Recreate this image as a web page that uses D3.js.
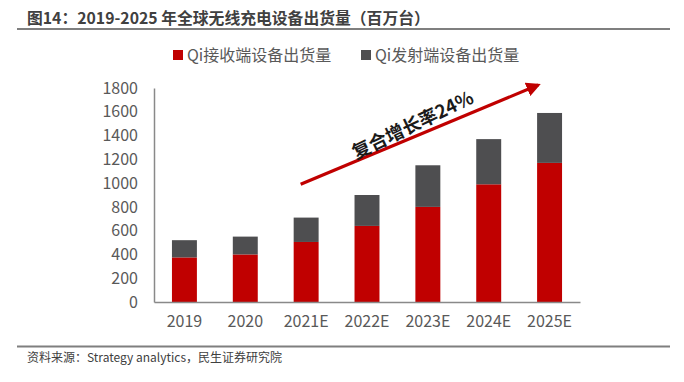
<!DOCTYPE html>
<html><head><meta charset="utf-8">
<script src="https://cdn.jsdelivr.net/npm/d3@7/dist/d3.min.js"></script>
<style>body{margin:0;background:#fff}svg{display:block}</style>
</head><body>
<svg id="c" width="684" height="382"></svg>
<script>
const categories = ["2019","2020","2021E","2022E","2023E","2024E","2025E"];
const receiverValues = [375,400,505,640,800,990,1170];
const transmitterValues = [145,150,205,260,350,380,420];
const yTicks = [0,200,400,600,800,1000,1200,1400,1600,1800];
const seriesNames = ["Qi接收端设备出货量","Qi发射端设备出货量"];
const seriesColors = ["#c00000","#4e4e50"];
const titleText = "图14：2019-2025 年全球无线充电设备出货量（百万台）";
const sourceText = "资料来源：Strategy analytics，民生证券研究院";
const cagrLabel = "复合增长率24%";
const arrowFrom = ["2021E", 990];
const arrowTo = ["2025E", 1825];

const svg = d3.select("#c");
const font = "'Noto Sans CJK SC','Noto Sans',sans-serif";

// title & rules
svg.append("text").attr("x",27).attr("y",24).attr("font-family",font)
  .attr("font-weight","bold").attr("font-size",15.8).attr("fill","#404040").text(titleText);
svg.append("line").attr("x1",17).attr("x2",670).attr("y1",29).attr("y2",29)
  .attr("stroke","#7f7f7f").attr("stroke-width",2);
svg.append("line").attr("x1",17).attr("x2",670).attr("y1",346.5).attr("y2",346.5)
  .attr("stroke","#7f7f7f").attr("stroke-width",2);
svg.append("text").attr("x",27).attr("y",362).attr("font-family",font)
  .attr("font-size",12).attr("fill","#404040").text(sourceText);

const x = d3.scaleBand().domain(categories).range([154,580]).paddingInner(0.59).paddingOuter(0.295);
const y = d3.scaleLinear().domain([0,1800]).range([302,88]);

const data = categories.map((c,i)=>({cat:c, r:receiverValues[i], t:transmitterValues[i]}));

// bars
const g = svg.append("g");
g.selectAll("rect.r").data(data).join("rect").attr("class","r")
  .attr("x",d=>x(d.cat)).attr("width",x.bandwidth())
  .attr("y",d=>y(d.r)).attr("height",d=>y(0)-y(d.r)).attr("fill",seriesColors[0]);
g.selectAll("rect.t").data(data).join("rect").attr("class","t")
  .attr("x",d=>x(d.cat)).attr("width",x.bandwidth())
  .attr("y",d=>y(d.r+d.t)).attr("height",d=>y(d.r)-y(d.r+d.t)).attr("fill",seriesColors[1]);

// y axis
const ya = svg.append("g").attr("transform","translate(154,0)")
  .call(d3.axisLeft(y).tickValues(yTicks).tickSize(0).tickPadding(16).tickFormat(d3.format("d")));
ya.select(".domain").attr("stroke","#898989").attr("stroke-width",1.5);
ya.selectAll("text").attr("font-family",font).attr("font-size",16).attr("fill","#595959");

// x axis
const xa = svg.append("g").attr("transform","translate(0,302)")
  .call(d3.axisBottom(x).tickSize(0).tickPadding(14));
xa.select(".domain").attr("stroke","#898989").attr("stroke-width",1.5);
xa.selectAll("text").attr("font-family",font).attr("font-size",16).attr("fill","#595959");

// legend
const legendX = [173,361];
seriesNames.forEach((n,i)=>{
  svg.append("rect").attr("x",legendX[i]).attr("y",50).attr("width",10).attr("height",10).attr("fill",seriesColors[i]);
  svg.append("text").attr("x",legendX[i]+14).attr("y",60.5).attr("font-family",font)
    .attr("font-size",16).attr("fill","#595959").text(n);
});

// CAGR arrow
const defs = svg.append("defs");
defs.append("marker").attr("id","ah").attr("viewBox","0 0 10 10").attr("refX",8).attr("refY",5)
  .attr("markerWidth",4.5).attr("markerHeight",4.5).attr("orient","auto")
  .append("path").attr("d","M0,0L10,5L0,10z").attr("fill","#c00000");
const x1 = x(arrowFrom[0]) + 7, y1 = y(arrowFrom[1]);
const x2 = x(arrowTo[0]) + 1, y2 = y(arrowTo[1]);
svg.append("line").attr("x1",x1).attr("y1",y1).attr("x2",x2).attr("y2",y2)
  .attr("stroke","#c00000").attr("stroke-width",3.2).attr("marker-end","url(#ah)");
const ang = Math.atan2(y2-y1, x2-x1)*180/Math.PI;
const tx = x1 + (x2-x1)*0.49, ty = y1 + (y2-y1)*0.49;
const nx = Math.sin(ang*Math.PI/180)*13, ny = -Math.cos(ang*Math.PI/180)*13;
svg.append("text").attr("transform",`translate(${tx+nx},${ty+ny}) rotate(${ang-3})`)
  .attr("text-anchor","middle").attr("dominant-baseline","central")
  .attr("font-family",font).attr("font-weight","bold").attr("font-size",18.5).attr("fill","#1a1a1a")
  .text(cagrLabel);
</script>
</body></html>
